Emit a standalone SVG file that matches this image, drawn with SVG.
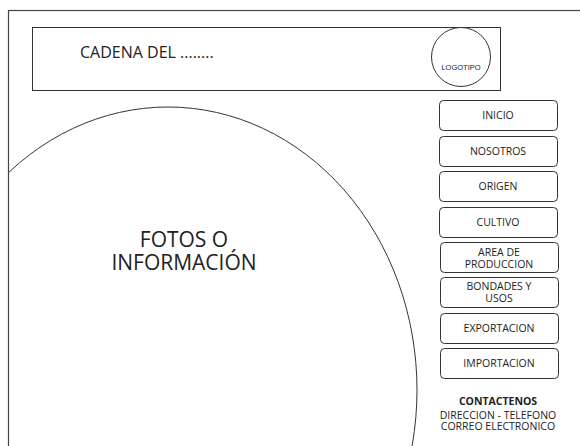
<svg xmlns="http://www.w3.org/2000/svg" width="580" height="446" viewBox="0 0 580 446">
<defs>
<style>
.frame{fill:none;stroke:#444;stroke-width:1.2}
.box{fill:#fff;stroke:#333;stroke-width:1}
.t{font-family:"Open Sans","Noto Sans","Liberation Sans",sans-serif;fill:#222;text-anchor:middle}
.btn{font-size:10.5px}
</style>
<clipPath id="inner"><rect x="9" y="11" width="600" height="500"/></clipPath>
</defs>
<rect width="580" height="446" fill="#fff"/>
<rect class="frame" x="8.5" y="10.5" width="620" height="500"/>
<g id="header">
<rect class="box" x="32.5" y="27.5" width="468" height="63" stroke="#444"/>
<text class="t" x="80" y="58" font-size="16" text-anchor="start" style="text-anchor:start">CADENA DEL ........</text>
</g>
<g id="logo">
<circle class="box" cx="461" cy="57" r="29.5"/>
<text x="461" y="70" font-family="Liberation Sans, Arial, sans-serif" font-size="7.5" text-anchor="middle" fill="#222">LOGOTIPO</text>
</g>
<g id="fotos">
<ellipse cx="168" cy="390" rx="249" ry="283" fill="none" stroke="#333" stroke-width="1" clip-path="url(#inner)"/>
<text class="t" x="184" y="247" font-size="21">FOTOS O</text>
<text class="t" x="184" y="270" font-size="21">INFORMACIÓN</text>
</g>
<g id="inicio"><rect class="box" x="439.5" y="100.5" width="118" height="30" rx="4"/><text class="t btn" x="498" y="119">INICIO</text></g>
<g id="nosotros"><rect class="box" x="439.5" y="136.5" width="118" height="30" rx="4"/><text class="t btn" x="498" y="155">NOSOTROS</text></g>
<g id="origen"><rect class="box" x="439.5" y="171.5" width="118" height="30" rx="4"/><text class="t btn" x="498" y="190">ORIGEN</text></g>
<g id="cultivo"><rect class="box" x="439.5" y="207.5" width="118" height="30" rx="4"/><text class="t btn" x="498" y="226">CULTIVO</text></g>
<g id="area"><rect class="box" x="440.5" y="242.5" width="118" height="30" rx="4"/><text class="t btn" x="499" y="256">AREA DE</text><text class="t btn" x="499" y="268">PRODUCCION</text></g>
<g id="bondades"><rect class="box" x="440.5" y="277.5" width="118" height="30" rx="4"/><text class="t btn" x="499" y="290">BONDADES Y</text><text class="t btn" x="499" y="302">USOS</text></g>
<g id="exportacion"><rect class="box" x="440.5" y="313.5" width="118" height="30" rx="4"/><text class="t btn" x="499" y="332">EXPORTACION</text></g>
<g id="importacion"><rect class="box" x="440.5" y="348.5" width="118" height="30" rx="4"/><text class="t btn" x="499" y="367">IMPORTACION</text></g>
<g id="contacto">
<text class="t" x="498" y="405" font-size="10.5" font-weight="bold">CONTACTENOS</text>
<text class="t" x="498" y="419" font-size="10.5">DIRECCION - TELEFONO</text>
<text class="t" x="498" y="430" font-size="10.5">CORREO ELECTRONICO</text>
</g>
<g id="connectors"/>
</svg>
